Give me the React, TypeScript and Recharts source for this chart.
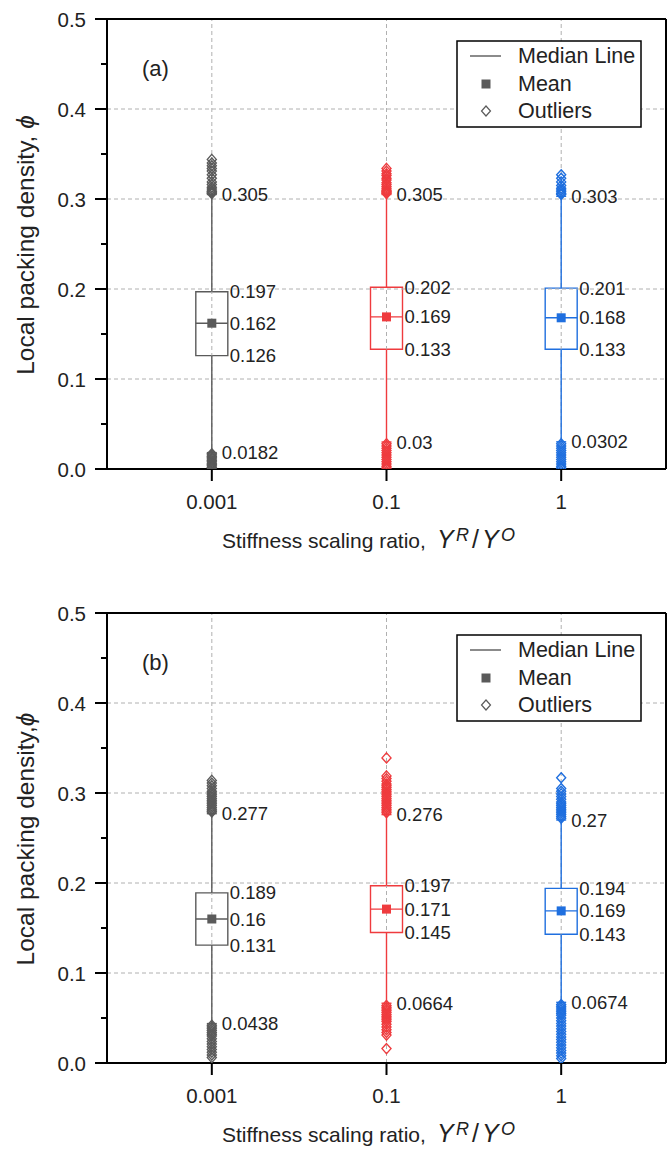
import React from "react";
import {
  ComposedChart,
  XAxis,
  YAxis,
  Scatter,
  ReferenceLine,
  ReferenceArea,
} from "recharts";

const categories = ["0.001", "0.1", "1"];
const catPos = [1, 2, 3];
const yTicks = [0, 0.05, 0.1, 0.15, 0.2, 0.25, 0.3, 0.35, 0.4, 0.45, 0.5];
const gridY = [0.1, 0.2, 0.3, 0.4];
const colors = ["#5a5a5a", "#ef3b3e", "#1f6fdf"];

// panel (a)
const aLow = [0.0182, 0.03, 0.0302];
const aQ1 = [0.126, 0.133, 0.133];
const aMedian = [0.162, 0.169, 0.168];
const aMean = [0.162, 0.169, 0.168];
const aQ3 = [0.197, 0.202, 0.201];
const aHigh = [0.305, 0.305, 0.303];
const aOutGray = [0.344, 0.34, 0.337, 0.334, 0.331, 0.327, 0.323, 0.319, 0.316, 0.313, 0.311, 0.309, 0.308, 0.307, 0.306,
  0.017, 0.0155, 0.014, 0.0125, 0.011, 0.0095, 0.008, 0.0065, 0.005, 0.0035, 0.002, 0.001];
const aOutRed = [0.334, 0.331, 0.328, 0.326, 0.323, 0.321, 0.318, 0.316, 0.314, 0.312, 0.31, 0.309, 0.308, 0.307, 0.306,
  0.028, 0.0255, 0.023, 0.0205, 0.018, 0.0155, 0.013, 0.0105, 0.008, 0.0055, 0.003, 0.001];
const aOutBlue = [0.327, 0.323, 0.319, 0.315, 0.312, 0.31, 0.308, 0.306, 0.305,
  0.028, 0.0255, 0.023, 0.0205, 0.018, 0.0155, 0.013, 0.0105, 0.008, 0.0055, 0.003, 0.001];

// panel (b)
const bLow = [0.0438, 0.0664, 0.0674];
const bQ1 = [0.131, 0.145, 0.143];
const bMedian = [0.16, 0.171, 0.169];
const bMean = [0.16, 0.171, 0.169];
const bQ3 = [0.189, 0.197, 0.194];
const bHigh = [0.277, 0.276, 0.27];
const bOutGray = [0.314, 0.311, 0.308, 0.305, 0.302, 0.3, 0.298, 0.296, 0.294, 0.292, 0.29, 0.288, 0.286, 0.284,
  0.282, 0.28, 0.279,
  0.042, 0.04, 0.038, 0.036, 0.034, 0.032, 0.03, 0.027, 0.024, 0.021, 0.018, 0.015, 0.012, 0.009, 0.006];
const bOutRed = [0.339, 0.319, 0.316, 0.313, 0.31, 0.308, 0.306, 0.304, 0.302, 0.3, 0.298, 0.296, 0.294, 0.292,
  0.29, 0.288, 0.286, 0.284, 0.282, 0.28, 0.278,
  0.064, 0.062, 0.06, 0.058, 0.056, 0.054, 0.052, 0.05, 0.048, 0.046, 0.043, 0.04, 0.037, 0.034, 0.031, 0.016];
const bOutBlue = [0.317, 0.305, 0.302, 0.299, 0.296, 0.293, 0.29, 0.288, 0.286, 0.284, 0.282, 0.28, 0.278, 0.276,
  0.274, 0.272,
  0.065, 0.063, 0.061, 0.059, 0.057, 0.055, 0.053, 0.05, 0.047, 0.044, 0.041, 0.038, 0.035, 0.032, 0.029, 0.026,
  0.023, 0.02, 0.017, 0.014, 0.011, 0.008, 0.005];

const BOX_HALF = 0.0916;
const CAP_HALF = 0.0286;
const FONT = "'Liberation Sans', Arial, sans-serif";

const YTick = (props: any) => {
  const { x, y, payload } = props;
  const v = payload.value;
  const major = Math.round(v * 100) % 10 === 0;
  return (
    <g>
      <line x1={x - (major ? 12 : 6)} x2={x} y1={y} y2={y} stroke="#000" strokeWidth={2} />
      {major && (
        <text x={x - 21} y={y} textAnchor="end" dominantBaseline="central" fontSize={20.5} fill="#222">
          {v.toFixed(1)}
        </text>
      )}
    </g>
  );
};

const XTick = (props: any) => {
  const { x, y, payload } = props;
  const i = catPos.indexOf(payload.value);
  return (
    <g>
      <line x1={x} x2={x} y1={y} y2={y + 12} stroke="#000" strokeWidth={2} />
      <text x={x} y={y + 32} textAnchor="middle" dominantBaseline="central" fontSize={20.5} fill="#222">
        {categories[i]}
      </text>
    </g>
  );
};

const diamond = (color: string) => (p: any) => {
  const { cx, cy } = p;
  return (
    <path
      d={`M${cx},${cy - 5}L${cx + 4.5},${cy}L${cx},${cy + 5}L${cx - 4.5},${cy}Z`}
      fill="none"
      stroke={color}
      strokeWidth={1.4}
    />
  );
};

const square = (color: string) => (p: any) => (
  <rect x={p.cx - 4.5} y={p.cy - 4.5} width={9} height={9} fill={color} />
);

const valueLabel = (p: any) => (
  <text
    x={p.cx + (p.payload.kind === "box" ? 18 : 10)}
    y={p.cy}
    dominantBaseline="central"
    fontSize={18.5}
    fill="#222"
  >
    {p.payload.text}
  </text>
);

interface PanelProps {
  tag: string;
  yTitle: string;
  low: number[];
  q1: number[];
  median: number[];
  mean: number[];
  q3: number[];
  high: number[];
  outliers: number[][];
}

function Panel({ tag, yTitle, low, q1, median, mean, q3, high, outliers }: PanelProps) {
  const labels = catPos.flatMap((c, i) => [
    { x: c, y: low[i], text: String(low[i]), kind: "whisker" },
    { x: c, y: high[i], text: String(high[i]), kind: "whisker" },
    { x: c, y: q1[i], text: String(q1[i]), kind: "box" },
    { x: c, y: mean[i], text: String(mean[i]), kind: "box" },
    { x: c, y: q3[i], text: String(q3[i]), kind: "box" },
  ]);
  return (
    <div style={{ position: "relative", width: 672, height: 559 }}>
      <ComposedChart width={672} height={559} margin={{ top: 19, right: 6, bottom: 0, left: 0 }}>
        <XAxis
          type="number"
          dataKey="x"
          domain={[0.4, 3.6]}
          ticks={catPos}
          interval={0}
          tickSize={0}
          tickMargin={0}
          tick={<XTick />}
          height={90}
          axisLine={{ stroke: "#000", strokeWidth: 2 }}
          allowDataOverflow
        />
        <YAxis
          type="number"
          domain={[0, 0.5]}
          ticks={yTicks}
          interval={0}
          tickSize={0}
          tickMargin={0}
          tick={<YTick />}
          width={107}
          axisLine={{ stroke: "#000", strokeWidth: 2 }}
          allowDataOverflow
        />
        {gridY.map((v) => (
          <ReferenceLine key={"gy" + v} y={v} stroke="#b0b0b0" strokeDasharray="4 3" />
        ))}
        {catPos.map((c) => (
          <ReferenceLine key={"gx" + c} x={c} stroke="#b0b0b0" strokeDasharray="4 3" />
        ))}
        <ReferenceLine y={0.5} stroke="#000" strokeWidth={2} />
        <ReferenceLine x={3.6} stroke="#000" strokeWidth={2} />
        {catPos.map((c, i) => (
          <ReferenceArea
            key={"box" + c}
            x1={c - BOX_HALF}
            x2={c + BOX_HALF}
            y1={q1[i]}
            y2={q3[i]}
            fill="none"
            stroke={colors[i]}
            strokeWidth={1.4}
          />
        ))}
        {catPos.map((c, i) => (
          <ReferenceLine
            key={"med" + c}
            segment={[{ x: c - BOX_HALF, y: median[i] }, { x: c + BOX_HALF, y: median[i] }]}
            stroke={colors[i]}
            strokeWidth={1.4}
          />
        ))}
        {catPos.map((c, i) => (
          <ReferenceLine
            key={"wl" + c}
            segment={[{ x: c, y: low[i] }, { x: c, y: q1[i] }]}
            stroke={colors[i]}
            strokeWidth={1.4}
          />
        ))}
        {catPos.map((c, i) => (
          <ReferenceLine
            key={"wh" + c}
            segment={[{ x: c, y: q3[i] }, { x: c, y: high[i] }]}
            stroke={colors[i]}
            strokeWidth={1.4}
          />
        ))}
        {catPos.map((c, i) => (
          <ReferenceLine
            key={"cl" + c}
            segment={[{ x: c - CAP_HALF, y: low[i] }, { x: c + CAP_HALF, y: low[i] }]}
            stroke={colors[i]}
            strokeWidth={1.4}
          />
        ))}
        {catPos.map((c, i) => (
          <ReferenceLine
            key={"ch" + c}
            segment={[{ x: c - CAP_HALF, y: high[i] }, { x: c + CAP_HALF, y: high[i] }]}
            stroke={colors[i]}
            strokeWidth={1.4}
          />
        ))}
        {catPos.map((c, i) => (
          <Scatter
            key={"out" + c}
            data={outliers[i].map((v) => ({ x: c, y: v }))}
            dataKey="y"
            shape={diamond(colors[i])}
            isAnimationActive={false}
          />
        ))}
        {catPos.map((c, i) => (
          <Scatter
            key={"mean" + c}
            data={[{ x: c, y: mean[i] }]}
            dataKey="y"
            shape={square(colors[i])}
            isAnimationActive={false}
          />
        ))}
        <Scatter data={labels} dataKey="y" shape={valueLabel} isAnimationActive={false} />
      </ComposedChart>
      <svg
        width={672}
        height={559}
        style={{ position: "absolute", left: 0, top: 0, pointerEvents: "none" }}
        fontFamily={FONT}
      >
        <text x={142} y={68} dominantBaseline="central" fontSize={22} fill="#222">
          {tag}
        </text>
        <text
          transform="translate(25,245) rotate(-90)"
          textAnchor="middle"
          dominantBaseline="central"
          fontSize={24.5}
          fill="#222"
        >
          {yTitle}
          <tspan fontStyle="italic">ϕ</tspan>
        </text>
        <text x={222} y={548} fontSize={21} fill="#222">
          Stiffness scaling ratio,
        </text>
        <text y={548} fontSize={25} fill="#222">
          <tspan x={437} fontStyle="italic">Y</tspan>
          <tspan x={456} fontStyle="italic" fontSize={18} dy={-7}>R</tspan>
          <tspan x={472} dy={7}>/</tspan>
          <tspan x={482} fontStyle="italic">Y</tspan>
          <tspan x={501} fontStyle="italic" fontSize={18} dy={-7}>O</tspan>
        </text>
        <rect x={457} y={41} width={184} height={86} fill="#fff" stroke="#000" strokeWidth={1.5} />
        <line x1={470} x2={501} y1={56} y2={56} stroke={colors[0]} strokeWidth={1.4} />
        <rect x={481.5} y={79.5} width={9} height={9} fill={colors[0]} />
        <path d="M486,106L490.5,111L486,116L481.5,111Z" fill="none" stroke={colors[0]} strokeWidth={1.2} />
        <text x={518} y={56} dominantBaseline="central" fontSize={21.5} fill="#222">Median Line</text>
        <text x={518} y={84} dominantBaseline="central" fontSize={21.5} fill="#222">Mean</text>
        <text x={518} y={111} dominantBaseline="central" fontSize={21.5} fill="#222">Outliers</text>
      </svg>
    </div>
  );
}

export default function App() {
  return (
    <div style={{ position: "absolute", left: 0, top: 0, width: 672, height: 1153, background: "#fff", fontFamily: FONT }}>
      <Panel
        tag="(a)"
        yTitle="Local packing density, "
        low={aLow}
        q1={aQ1}
        median={aMedian}
        mean={aMean}
        q3={aQ3}
        high={aHigh}
        outliers={[aOutGray, aOutRed, aOutBlue]}
      />
      <div style={{ height: 35 }} />
      <Panel
        tag="(b)"
        yTitle="Local packing density,"
        low={bLow}
        q1={bQ1}
        median={bMedian}
        mean={bMean}
        q3={bQ3}
        high={bHigh}
        outliers={[bOutGray, bOutRed, bOutBlue]}
      />
    </div>
  );
}
